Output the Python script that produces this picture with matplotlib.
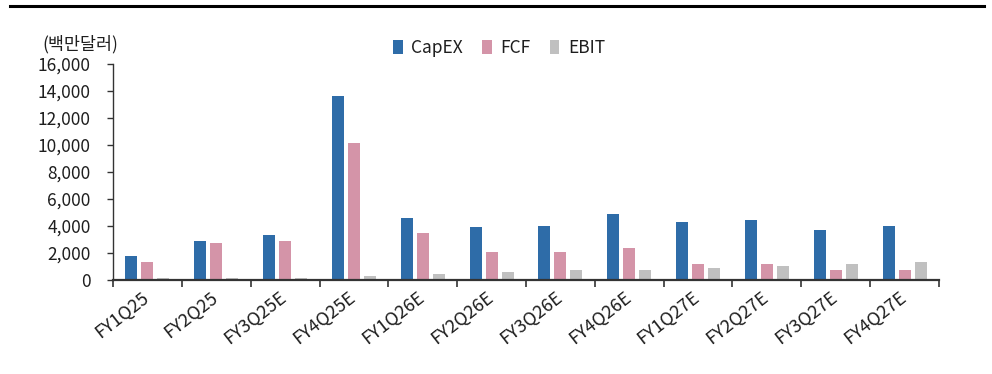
import matplotlib
matplotlib.use("Agg")
import matplotlib.pyplot as plt
import matplotlib.transforms as mtransforms
import numpy as np
from matplotlib.lines import Line2D

plt.rcParams['font.family'] = ['Noto Sans CJK KR', 'DejaVu Sans']

quarters = ["FY1Q25", "FY2Q25", "FY3Q25E", "FY4Q25E", "FY1Q26E", "FY2Q26E",
            "FY3Q26E", "FY4Q26E", "FY1Q27E", "FY2Q27E", "FY3Q27E", "FY4Q27E"]
capex = [1800, 2850, 3300, 13600, 4600, 3900, 4000, 4900, 4300, 4450, 3700, 4000]
fcf = [1350, 2700, 2850, 10150, 3450, 2100, 2100, 2400, 1200, 1200, 750, 750]
ebit = [170, 170, 170, 300, 450, 600, 750, 750, 900, 1050, 1200, 1350]
yticks = [0, 2000, 4000, 6000, 8000, 10000, 12000, 14000, 16000]

series_names = ["CapEX", "FCF", "EBIT"]
colors = ["#2E6CA8", "#D494A8", "#C0C0C0"]
text_color = "#1e1e1e"

fig = plt.figure(figsize=(9.92, 3.74), dpi=100)
ax = fig.add_axes([113 / 992, 1 - 280 / 374, (939 - 113) / 992, (280 - 63.5) / 374])

x = np.arange(len(quarters))
bw = 0.174
step = 0.233
for i, (vals, name, c) in enumerate(zip([capex, fcf, ebit], series_names, colors)):
    ax.bar(x + (i - 1) * step, vals, width=bw, color=c, label=name, zorder=2)

ax.set_xlim(-0.5, len(quarters) - 0.5)
ax.set_ylim(0, 16000)
ax.set_yticks(yticks)
ax.set_yticklabels([f"{v:,}" for v in yticks], fontsize=12.5, color=text_color)

# category boundary ticks on the x axis
ax.set_xticks(np.arange(len(quarters) + 1) - 0.5)
ax.set_xticklabels([])
ax.set_xticks(x, minor=True)
ax.set_xticklabels(quarters, minor=True, rotation=38, ha="right", va="top",
                   rotation_mode="anchor", fontsize=13, color=text_color)
ax.tick_params(axis="x", which="minor", length=0, pad=6)
ax.tick_params(axis="x", which="major", length=5, width=1.2, color="#333333", direction="out")
ax.tick_params(axis="y", length=4, width=1.0, color="#333333", direction="out", pad=12)

# nudge the slanted quarter labels so they end at the category centre
shift = mtransforms.ScaledTranslation(-6 / 100, 0, fig.dpi_scale_trans)
for lbl in ax.get_xticklabels(minor=True):
    lbl.set_transform(lbl.get_transform() + shift)

for s in ["top", "right"]:
    ax.spines[s].set_visible(False)
ax.spines["left"].set_color("#333333")
ax.spines["bottom"].set_color("#333333")
ax.spines["left"].set_linewidth(1.0)
ax.spines["bottom"].set_linewidth(1.6)

fig.text(42 / 992, 1 - 44 / 374, "(백만달러)", fontsize=12.5, color=text_color,
         ha="left", va="center")

handles, labels = ax.get_legend_handles_labels()
fig.legend(handles, labels, loc="center", bbox_to_anchor=(499 / 992, 1 - 48 / 374),
           ncol=3, frameon=False, fontsize=12.5, handlelength=0.55, handleheight=0.9,
           handletextpad=0.5, columnspacing=1.1, labelcolor=text_color)

# rule across the top of the figure
fig.add_artist(Line2D([10 / 992, 984 / 992], [1 - 6 / 374, 1 - 6 / 374],
                      transform=fig.transFigure, color="black", linewidth=2.2))

fig.savefig("out.png", dpi=100)
